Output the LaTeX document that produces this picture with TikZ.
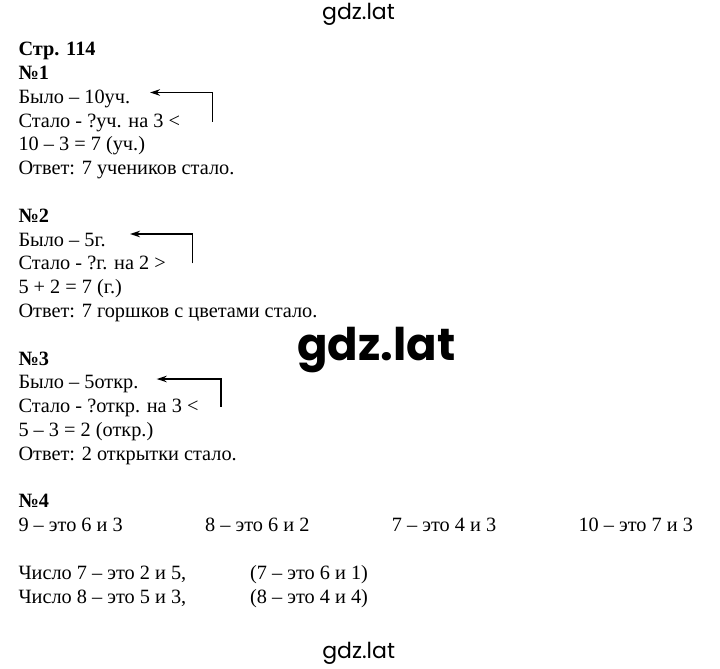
\documentclass[tikz,border=0pt]{standalone}
\usepackage{fontspec}
\setmainfont{Liberation Serif}
\newfontfamily\wmfont{Poppins}
\usetikzlibrary{arrows.meta}
\tikzset{ln/.style={
    anchor=base west,
    inner sep=0pt,
    font=\fontsize{20.3}{20.3}\selectfont}}
\tikzset{hd/.style={
    ln,
    font=\fontsize{20.3}{20.3}\selectfont\bfseries}}
\tikzset{wm/.style={
    anchor=base,
    inner sep=0pt,
    font=\wmfont\fontsize{22}{22}\selectfont}}
\tikzset{back/.style={
    line width=1.6pt,
    -{Stealth[length=10pt,width=6.5pt]}}}

\begin{document}
\begin{tikzpicture}[x=1pt, y=-1pt]
  \useasboundingbox (0,0) rectangle (720,669);

\node[wm] (w1) at (358.5,19.3) {gdz.lat};
\node[wm,
  font=\wmfont\fontsize{45}{45}\selectfont\bfseries] (w2) at (376.5,360) {gdz.lat};
\node[wm] (w3) at (358.7,658.3) {gdz.lat};

\node[hd] (p) at (18.3,55.7) {Стр. 114};

\node[hd] (n1) at (18.3,79.5) {№1};
\node[ln] (b1) at (18.3,103.3) {Было – 10уч.};
\node[ln] (s1) at (18.3,127.1) {Стало - ?уч. на 3 <};
\node[ln] (r1) at (18.3,150.9) {10 – 3 = 7 (уч.)};
\node[ln] (o1) at (18.3,174.7) {Ответ: 7 учеников стало.};

\node[hd] (n2) at (18.3,222.3) {№2};
\node[ln] (b2) at (18.3,246.1) {Было – 5г.};
\node[ln] (s2) at (18.3,269.9) {Стало - ?г. на 2 >};
\node[ln] (r2) at (18.3,293.7) {5 + 2 = 7 (г.)};
\node[ln] (o2) at (18.3,317.5) {Ответ: 7 горшков с цветами стало.};

\node[hd] (n3) at (18.3,365.1) {№3};
\node[ln] (b3) at (18.3,388.9) {Было – 5откр.};
\node[ln] (s3) at (18.3,412.7) {Стало - ?откр. на 3 <};
\node[ln] (r3) at (18.3,436.5) {5 – 3 = 2 (откр.)};
\node[ln] (o3) at (18.3,460.3) {Ответ: 2 открытки стало.};

\node[hd] (n4) at (18.3,507.9) {№4};
\node[ln] (c1) at (18.3,531.7) {9 – это 6 и 3};
\node[ln] (c2) at (205,531.7) {8 – это 6 и 2};
\node[ln] (c3) at (391.7,531.7) {7 – это 4 и 3};
\node[ln] (c4) at (578.3,531.7) {10 – это 7 и 3};
\node[ln] (d1) at (18.3,579.3) {Число 7 – это 2 и 5,};
\node[ln] (d2) at (250,579.3) {(7 – это 6 и 1)};
\node[ln] (e1) at (18.3,603.1) {Число 8 – это 5 и 3,};
\node[ln] (e2) at (250,603.1) {(8 – это 4 и 4)};

\coordinate (a1s) at (212.5,121.5);
\coordinate (a1e) at (150,92.5);
\coordinate (a2s) at (192.3,263.3);
\coordinate (a2e) at (130,234);
\coordinate (a3s) at (220.7,406.7);
\coordinate (a3e) at (156.7,379);

\draw[back] (a1s) |- (a1e);
\draw[back] (a2s) |- (a2e);
\draw[back] (a3s) |- (a3e);

\end{tikzpicture}
\end{document}
